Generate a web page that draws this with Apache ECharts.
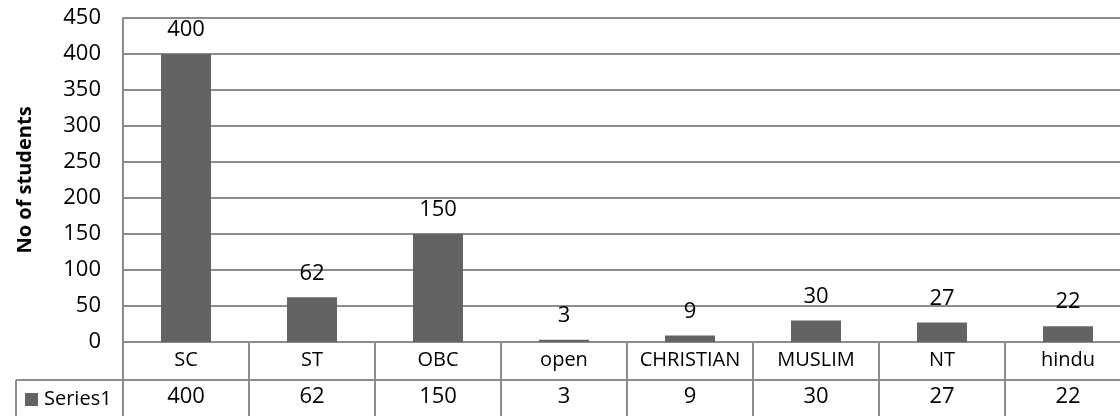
<!DOCTYPE html>
<html>
<head>
<meta charset="utf-8">
<script src="https://cdn.jsdelivr.net/npm/echarts@6/dist/echarts.min.js"></script>
<style>
  html, body { margin: 0; padding: 0; background: #fff; }
  #chart { width: 1120px; height: 416px; }
</style>
</head>
<body>
<div id="chart"></div>
<script>
// data
var categories = ['SC', 'ST', 'OBC', 'open', 'CHRISTIAN', 'MUSLIM', 'NT', 'hindu'];
var students = [400, 62, 150, 3, 9, 30, 27, 22];
var seriesName = 'Series1';
var yTicks = { min: 0, max: 450, interval: 50 };

var FONT = 'Open Sans';
var LINE = '#8c8c8c';
var BAR = '#636363';
var FS = 20;     // text
var NUM = 22;    // numbers look a bit wider in the reference

var myChart = echarts.init(document.getElementById('chart'));

var option = {
  animation: false,
  textStyle: { fontFamily: FONT },
  // plot runs past the right edge of the picture, like the reference
  grid: { left: 123, width: 1008, top: 18, bottom: 74, outerBoundsMode: 'none', containLabel: false },
  xAxis: [
    {
      type: 'category',
      data: categories,
      position: 'bottom',
      axisLine: { show: true, lineStyle: { color: LINE, width: 2 } },
      axisTick: { show: true, length: 38, lineStyle: { color: LINE, width: 2 } },
      axisLabel: { color: '#000', fontSize: FS, margin: 8, interval: 0 }
    },
    {
      type: 'category',
      data: students.map(String),
      position: 'bottom',
      offset: 38,
      axisLine: { show: true, lineStyle: { color: LINE, width: 2 } },
      axisTick: { show: true, length: 40, lineStyle: { color: LINE, width: 2 } },
      axisLabel: { color: '#000', fontSize: NUM, margin: 6, interval: 0 }
    }
  ],
  yAxis: {
    type: 'value',
    min: yTicks.min,
    max: yTicks.max,
    interval: yTicks.interval,
    name: 'No of students',
    nameLocation: 'middle',
    nameGap: 88,
    nameTextStyle: { fontWeight: 'bold', fontSize: 20, color: '#000' },
    axisLine: { show: true, lineStyle: { color: LINE, width: 2 } },
    axisTick: { show: false },
    axisLabel: { color: '#000', fontSize: NUM, margin: 22 },
    splitLine: { show: true, lineStyle: { color: LINE, width: 2 } }
  },
  series: [
    {
      name: seriesName,
      type: 'bar',
      xAxisIndex: 0,
      data: students,
      barWidth: 50,
      itemStyle: { color: BAR },
      label: {
        show: true,
        position: 'top',
        distance: 13,
        color: '#000',
        fontSize: NUM
      }
    }
  ],
  graphic: [
    // legend cell of the data table
    { type: 'line', shape: { x1: 16, y1: 380, x2: 124, y2: 380 }, style: { stroke: LINE, lineWidth: 2 } },
    { type: 'line', shape: { x1: 16, y1: 380, x2: 16, y2: 420 }, style: { stroke: LINE, lineWidth: 2 } },
    { type: 'rect', shape: { x: 25, y: 393, width: 13, height: 13 }, style: { fill: BAR } },
    { type: 'text', x: 44, y: 399, style: { text: seriesName, font: FS + 'px "Open Sans"', fill: '#000', verticalAlign: 'middle' } }
  ]
};

myChart.setOption(option);
</script>
</body>
</html>
